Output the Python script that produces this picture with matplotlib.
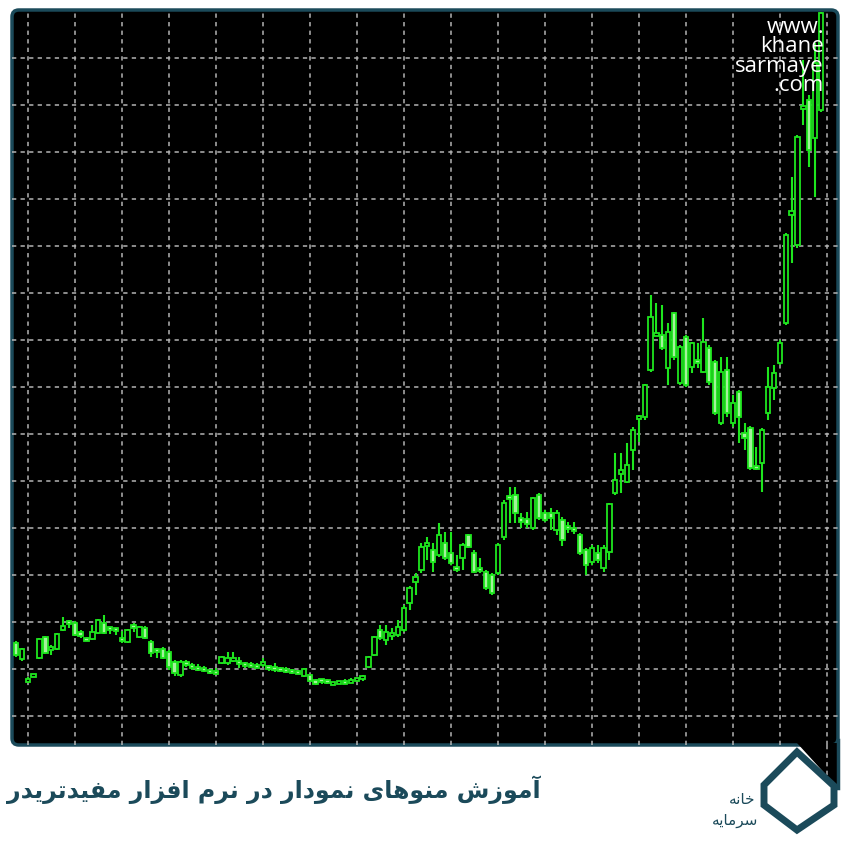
import matplotlib
matplotlib.use('Agg')
import matplotlib.pyplot as plt
from matplotlib.patches import Rectangle, FancyBboxPatch, Polygon
from matplotlib.lines import Line2D

# candle data (price units), one entry per bar
opens = [120, 104, 82, 87, 105, 126, 113, 114, 133, 142, 140, 131, 125, 124, 130, 140, 135, 134, 125, 121,
         138, 126, 135, 121, 114, 114, 111, 101, 88, 100, 98, 96, 94, 92, 91, 100, 100, 103, 102, 100,
         99, 98, 99, 97, 96, 95, 94, 93, 92, 87, 88, 83, 83, 82, 80, 81, 82, 81, 84, 84,
         96, 108, 133, 123, 128, 128, 133, 160, 181, 193, 217, 213, 208, 220, 210, 196, 205, 228, 210, 195,
         191, 188, 190, 226, 267, 268, 245, 244, 235, 268, 250, 250, 233, 243, 237, 235, 228, 213, 201, 210,
         195, 211, 270, 289, 281, 313, 345, 346, 393, 428, 428, 395, 450, 380, 426, 396, 403, 391, 415, 401,
         340, 393, 340, 371, 330, 335, 297, 300, 350, 375, 400, 440, 548, 518, 655, 663, 625, 653]
highs = [122, 115, 86, 88.5, 125, 127, 118, 130, 146, 143, 142, 133, 126, 138, 144, 148, 136, 135, 132, 134,
         140, 137, 137, 123, 115, 116, 113, 103, 103, 103, 100, 99, 97, 94, 95, 107, 111, 111, 106, 101,
         101, 100, 105, 98, 100, 96, 96, 94, 93, 95, 89, 84, 84, 84, 80.5, 81.5, 84, 85, 85, 88,
         107, 127, 138, 138, 135, 143, 158, 177, 190, 220, 226, 220, 240, 231, 231, 208, 220, 229, 213, 205,
         193, 190, 220, 263, 276, 276, 250, 251, 266, 270, 253, 255, 253, 246, 241, 241, 230, 215, 218, 218,
         218, 260, 310, 310, 320, 336, 348, 379, 468, 460, 458, 440, 451, 418, 428, 421, 420, 445, 418, 403,
         406, 406, 368, 373, 340, 337, 316, 335, 396, 398, 423, 530, 586, 628, 703, 668, 720, 751]
lows = [106, 102, 80, 86, 104, 109, 108, 113, 132, 135, 127, 125, 122, 123, 129, 129, 129, 128, 120, 120,
        131, 125, 124, 106, 105, 104, 93, 87, 86, 96, 93, 92, 91, 89, 88, 99, 98, 101, 95, 95,
        96, 95, 96, 92, 91, 91, 90, 89, 89, 86, 81, 78, 79, 79, 79.5, 80, 79, 80, 83, 82,
        95, 107, 123, 118, 123, 126, 131, 153, 168, 190, 203, 191, 206, 203, 198, 191, 193, 215, 190, 190,
        173, 168, 188, 223, 240, 240, 235, 235, 233, 243, 241, 233, 228, 217, 230, 229, 208, 188, 198, 200,
        191, 203, 268, 270, 280, 293, 321, 343, 391, 427, 413, 378, 403, 378, 376, 390, 395, 390, 378, 348,
        338, 346, 336, 320, 313, 293, 293, 271, 343, 363, 398, 438, 500, 515, 638, 596, 566, 651]
closes = [108, 114, 84, 88, 124, 110, 116, 129, 137, 140, 128, 127, 122, 131, 143, 130, 134, 133, 123, 133,
          135, 136, 125, 110, 112, 105, 96, 90, 101, 99, 96, 94, 93, 91, 90, 106, 105, 105, 99, 97,
          97, 96, 101, 94, 94, 93, 92, 91, 90, 94, 82, 79, 82, 81, 80, 81, 80, 83, 84, 87,
          106, 126, 125, 131, 130, 136, 155, 175, 186, 216, 220, 201, 228, 205, 200, 194, 218, 216, 191, 192,
          175, 170, 218, 260, 265, 250, 241, 239, 265, 245, 243, 245, 250, 223, 235, 232, 210, 198, 215, 203,
          215, 259, 283, 293, 298, 333, 347, 378, 446, 429, 415, 431, 406, 416, 378, 420, 400, 421, 381, 350,
          391, 350, 360, 346, 325, 295, 295, 333, 376, 390, 420, 528, 552, 626, 657, 613, 700, 750]

grid_prices = [47, 94, 141, 188, 235, 282, 329, 376, 423, 470, 517, 564, 611, 658, 705]
grid_bars = [2, 10, 18, 26, 34, 42, 50, 58, 66, 74, 82, 90, 98, 106, 114, 122, 130, 138]

title = 'آموزش منوهای نمودار در نرم افزار مفیدتریدر'
site_text = 'www.\nkhane\nsarmaye\n.com'
logo_line1 = 'خانه'
logo_line2 = 'سرمایه'

TEAL = '#1b4a5a'
EDGE = '#1ee61e'
BEAR_FILL = '#a4f29c'
GRID = '#b4b4b4'

# simple arabic/persian shaping (no reshaper lib available)
FORMS = {
    'آ': ('\uFE81', '\uFE82', None, None),
    'ا': ('\uFE8D', '\uFE8E', None, None),
    'ت': ('\uFE95', '\uFE96', '\uFE97', '\uFE98'),
    'خ': ('\uFEA5', '\uFEA6', '\uFEA7', '\uFEA8'),
    'د': ('\uFEA9', '\uFEAA', None, None),
    'ر': ('\uFEAD', '\uFEAE', None, None),
    'ز': ('\uFEAF', '\uFEB0', None, None),
    'س': ('\uFEB1', '\uFEB2', '\uFEB3', '\uFEB4'),
    'ش': ('\uFEB5', '\uFEB6', '\uFEB7', '\uFEB8'),
    'ف': ('\uFED1', '\uFED2', '\uFED3', '\uFED4'),
    'م': ('\uFEE1', '\uFEE2', '\uFEE3', '\uFEE4'),
    'ن': ('\uFEE5', '\uFEE6', '\uFEE7', '\uFEE8'),
    'ه': ('\uFEE9', '\uFEEA', '\uFEEB', '\uFEEC'),
    'و': ('\uFEED', '\uFEEE', None, None),
    'ی': ('\uFEEF', '\uFEF0', '\uFEF3', '\uFEF4'),
}


def shape(text):
    out = []
    for k, ch in enumerate(text):
        if ch not in FORMS:
            out.append(ch)
            continue
        prev = text[k-1] if k > 0 else None
        nxt = text[k+1] if k+1 < len(text) else None
        jp = prev in FORMS and FORMS[prev][2] is not None
        jn = nxt in FORMS and FORMS[ch][2] is not None
        iso, fin, ini, med = FORMS[ch]
        if jp and jn:
            out.append(med)
        elif jp:
            out.append(fin)
        elif jn:
            out.append(ini)
        else:
            out.append(iso)
    return ''.join(out)[::-1]


W = 850.


def fx(x):
    return x/W


def fy(y):
    return 1 - y/W


fig = plt.figure(figsize=(8.5, 8.5), dpi=100, facecolor='white')

# black panel with rounded teal border
panel = FancyBboxPatch((fx(12), fy(745)), fx(838)-fx(12), fy(10)-fy(745),
                       boxstyle='round,pad=0,rounding_size=0.008',
                       transform=fig.transFigure, facecolor='black',
                       edgecolor=TEAL, linewidth=2.5, zorder=0)
fig.patches.append(panel)
tri = Polygon([(fx(797), fy(743)), (fx(838), fy(743)), (fx(838), fy(788))],
              closed=True, transform=fig.transFigure, facecolor='black',
              edgecolor='none', zorder=0.5)
fig.patches.append(tri)
fig.lines.append(Line2D([fx(838), fx(838)], [fy(740), fy(788)], transform=fig.transFigure,
                        color=TEAL, lw=2.5, zorder=0.6))
fig.lines.append(Line2D([fx(827), fx(827)], [fy(745), fy(778)], transform=fig.transFigure,
                        color=GRID, lw=1.1, ls=(0, (2.8, 2.8)), zorder=0.6))

ax = fig.add_axes([fx(12), fy(745), fx(838)-fx(12), fy(10)-fy(745)], zorder=1)
ax.patch.set_visible(False)
for s in ax.spines.values():
    s.set_visible(False)
ax.set_xticks([])
ax.set_yticks([])
ax.set_xlim(-0.68, 139.9)
ax.set_ylim(18, 753)

for g in grid_prices:
    ax.axhline(g, color=GRID, lw=1.1, ls=(0, (2.8, 2.8)), zorder=1)
for g in grid_bars:
    ax.axvline(g, color=GRID, lw=1.1, ls=(0, (2.8, 2.8)), zorder=1)

bw = 0.74
for i in range(len(opens)):
    o, h, l, c = opens[i], highs[i], lows[i], closes[i]
    ax.vlines(i, l, h, color=EDGE, lw=1.5, zorder=2)
    bot = min(o, c)
    ht = abs(c - o)
    if ht < 3:
        bot = (o + c)/2 - 1.5
        ht = 3
    face = 'black' if c >= o else BEAR_FILL
    ax.add_patch(Rectangle((i - bw/2, bot), bw, ht, facecolor=face,
                           edgecolor=EDGE, lw=1.3, zorder=3))

fig.text(fx(824), fy(17), site_text, ha='right', va='top', color='white',
         fontsize=16, family='Open Sans', linespacing=0.9, zorder=5)

# title
fig.text(fx(540), fy(790), shape(title), ha='right', va='center', fontsize=17,
         fontweight='bold', color=TEAL, family='DejaVu Sans')

# logo
hexa = Polygon([(fx(797), fy(752)), (fx(834), fy(786)), (fx(834), fy(805)),
                (fx(797), fy(830)), (fx(764), fy(805)), (fx(764), fy(785))],
               closed=True, transform=fig.transFigure, facecolor='white',
               edgecolor=TEAL, linewidth=5, zorder=2)
fig.patches.append(hexa)
fig.text(fx(755), fy(799), shape(logo_line1), ha='right', va='center', fontsize=11,
         color=TEAL, family='DejaVu Sans')
fig.text(fx(758), fy(820), shape(logo_line2), ha='right', va='center', fontsize=11,
         color=TEAL, family='DejaVu Sans')

fig.savefig('out.png', dpi=100, facecolor='white')
